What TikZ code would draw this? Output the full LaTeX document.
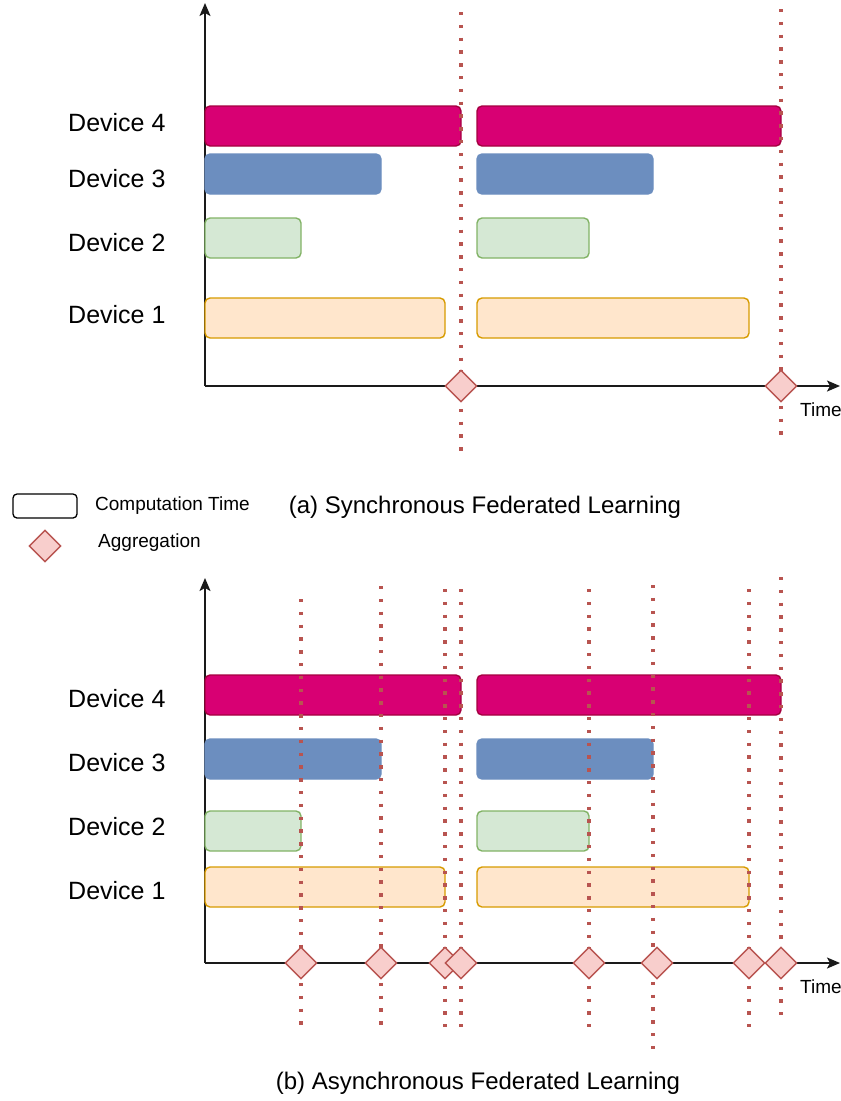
\documentclass[tikz,border=0pt]{standalone}
\usepackage{fontspec}
\setmainfont{Liberation Sans}
\usetikzlibrary{shapes.geometric,arrows.meta}
\definecolor{magF}{HTML}{D80073}\definecolor{magS}{HTML}{A50040}
\definecolor{bluF}{HTML}{6C8EBF}
\definecolor{grnF}{HTML}{D5E8D4}\definecolor{grnS}{HTML}{82B366}
\definecolor{orgF}{HTML}{FFE6CC}\definecolor{orgS}{HTML}{D79B00}
\definecolor{redF}{HTML}{F8CECC}\definecolor{redS}{HTML}{B85450}
\definecolor{axis}{HTML}{1A1A1A}
\begin{document}
\begin{tikzpicture}[x=1pt,y=-1pt,
  bar/.style={rectangle,rounded corners=5pt,line width=1.4pt,inner sep=0pt,outer sep=0pt,anchor=north west,minimum height=40pt},
  dev4/.style={bar,fill=magF,draw=magS},
  dev3/.style={bar,fill=bluF,draw=bluF},
  dev2/.style={bar,fill=grnF,draw=grnS},
  dev1/.style={bar,fill=orgF,draw=orgS},
  agg/.style={diamond,aspect=1,minimum size=32pt,inner sep=0pt,fill=redF,draw=redS,line width=1.4pt},
  sync/.style={draw=redS,line width=3.4pt,dash pattern=on 3.4pt off 9.4pt},
  axisline/.style={draw=axis,line width=1.8pt,-{Stealth[length=13pt,width=11pt,inset=3pt]}},
  lbl/.style={anchor=west,inner sep=0pt,font=\fontsize{25}{29}\selectfont},
  titletext/.style={inner sep=0pt,font=\fontsize{24}{28}\selectfont},
  small/.style={anchor=west,inner sep=0pt,font=\fontsize{19}{22}\selectfont}]
\useasboundingbox (0,0) rectangle (841,1101);

% ---------- (a) synchronous ----------
\coordinate (aO) at (205,386);
\coordinate (aY) at (205,3);
\coordinate (aX) at (840,386);
\draw[axisline] (aO) -- (aY);
\draw[axisline] (aO) -- (aX);

\node[dev4,minimum width=256pt] (a41) at (205,106) {};
\node[dev4,minimum width=304pt] (a42) at (477,106) {};
\node[dev3,minimum width=176pt] (a31) at (205,154) {};
\node[dev3,minimum width=176pt] (a32) at (477,154) {};
\node[dev2,minimum width=96pt]  (a21) at (205,218) {};
\node[dev2,minimum width=112pt] (a22) at (477,218) {};
\node[dev1,minimum width=240pt] (a11) at (205,298) {};
\node[dev1,minimum width=272pt] (a12) at (477,298) {};

\node[lbl] (aL4) at (68,123) {Device 4};
\node[lbl] (aL3) at (68,179) {Device 3};
\node[lbl] (aL2) at (68,243) {Device 2};
\node[lbl] (aL1) at (68,315) {Device 1};

\coordinate (as1t) at (461,12);  \coordinate (as1b) at (461,452);
\coordinate (as2t) at (781,9);   \coordinate (as2b) at (781,438);
\draw[sync] (as1t) -- (as1b);
\draw[sync] (as2t) -- (as2b);
\node[agg] (aA1) at (461,386) {};
\node[agg] (aA2) at (781,386) {};
\node[small] (aT) at (800,410) {Time};

\node[titletext] (capA) at (485,507) {(a) Synchronous Federated Learning};

% ---------- legend ----------
\node[draw=black,line width=1.3pt,rounded corners=4pt,minimum width=64pt,minimum height=24pt,inner sep=0pt] (legBox) at (45,506) {};
\node[small] (legBoxT) at (95,506) {Computation Time};
\node[agg] (legAgg) at (45,546) {};
\node[small] (legAggT) at (98,543) {Aggregation};

% ---------- (b) asynchronous ----------
\coordinate (bO) at (205,963);
\coordinate (bY) at (205,578);
\coordinate (bX) at (840,963);
\draw[axisline] (bO) -- (bY);
\draw[axisline] (bO) -- (bX);

\node[dev4,minimum width=256pt] (b41) at (205,675) {};
\node[dev4,minimum width=304pt] (b42) at (477,675) {};
\node[dev3,minimum width=176pt] (b31) at (205,739) {};
\node[dev3,minimum width=176pt] (b32) at (477,739) {};
\node[dev2,minimum width=96pt]  (b21) at (205,811) {};
\node[dev2,minimum width=112pt] (b22) at (477,811) {};
\node[dev1,minimum width=240pt] (b11) at (205,867) {};
\node[dev1,minimum width=272pt] (b12) at (477,867) {};

\node[lbl] (bL4) at (68,699) {Device 4};
\node[lbl] (bL3) at (68,763) {Device 3};
\node[lbl] (bL2) at (68,827) {Device 2};
\node[lbl] (bL1) at (68,891) {Device 1};

\foreach \n/\x/\t/\b in {1/301/599/1027, 2/381/586/1027, 3/445/589/1027, 4/461/589/1027,
                          5/589/589/1027, 6/653/585/1051, 7/749/589/1027, 8/781/577/1015}{
  \coordinate (bs\n t) at (\x,\t);
  \coordinate (bs\n b) at (\x,\b);
  \draw[sync] (bs\n t) -- (bs\n b);
}
\foreach \n/\x in {1/301, 2/381, 3/445, 4/461, 5/589, 6/657, 7/749, 8/781}{
  \node[agg] (bA\n) at (\x,963) {};
}
\node[small] (bT) at (800,987) {Time};

\node[titletext] (capB) at (478,1083) {(b) Asynchronous Federated Learning};
\end{tikzpicture}
\end{document}
